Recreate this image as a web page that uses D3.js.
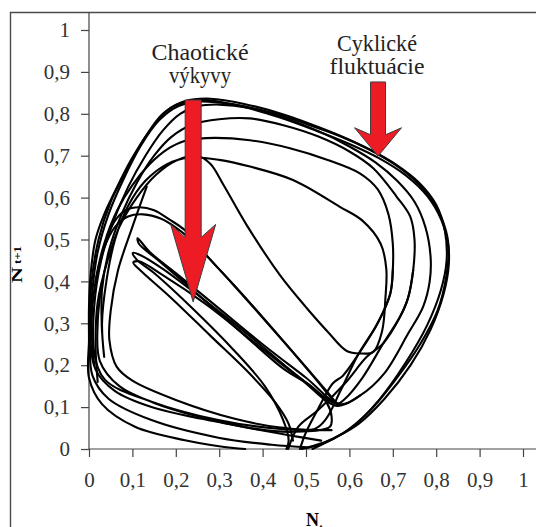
<!DOCTYPE html>
<html>
<head>
<meta charset="utf-8">
<script src="https://cdn.jsdelivr.net/npm/d3@7"></script>
<style>
  body { margin: 0; background: #fff; }
  svg { display: block; }
</style>
</head>
<body>
<div id="chart"></div>
<script>
// axis ticks
var xTicks = [0, 0.1, 0.2, 0.3, 0.4, 0.5, 0.6, 0.7, 0.8, 0.9, 1];
var xTickLabels = ["0", "0,1", "0,2", "0,3", "0,4", "0,5", "0,6", "0,7", "0,8", "0,9", "1"];
var yTicks = [0, 0.1, 0.2, 0.3, 0.4, 0.5, 0.6, 0.7, 0.8, 0.9, 1];
var yTickLabels = ["0", "0,1", "0,2", "0,3", "0,4", "0,5", "0,6", "0,7", "0,8", "0,9", "1"];

// trajectory pieces, [N_t, N_t+1]
// outer cycles (cyklicke fluktuacie)
var cycleA = [[0.36,0.0],[0.344,0.001],[0.221,0.021],[0.106,0.053],[0.03,0.107],[0.0,0.17],[0.0,0.26],[0.0,0.34],[0.004,0.42],[0.015,0.5],[0.035,0.56],[0.06,0.615],[0.097,0.69],[0.14,0.76],[0.18,0.808],[0.22,0.83],[0.28,0.836],[0.36,0.823],[0.45,0.798],[0.53,0.768],[0.6,0.738],[0.66,0.707],[0.72,0.668],[0.77,0.621],[0.806,0.566],[0.826,0.505],[0.829,0.44],[0.817,0.37],[0.787,0.285],[0.741,0.2],[0.681,0.12],[0.621,0.06],[0.566,0.026],[0.515,0.0]];
var cycleB = [[0.505,0.004],[0.421,0.01],[0.298,0.027],[0.144,0.069],[0.045,0.12],[0.008,0.175],[0.003,0.28],[0.008,0.38],[0.02,0.47],[0.045,0.56],[0.08,0.645],[0.12,0.725],[0.162,0.785],[0.205,0.818],[0.25,0.829],[0.33,0.823],[0.42,0.803],[0.5,0.776],[0.58,0.746],[0.65,0.713],[0.71,0.677],[0.76,0.636],[0.8,0.583],[0.82,0.521],[0.824,0.45],[0.811,0.38],[0.779,0.295],[0.729,0.205],[0.669,0.118],[0.606,0.052],[0.551,0.02],[0.5,0.003]];
var cycleC = [[0.535,0.02],[0.46,0.033],[0.38,0.048],[0.26,0.072],[0.144,0.1],[0.06,0.138],[0.015,0.19],[0.002,0.3],[0.006,0.4],[0.022,0.5],[0.05,0.59],[0.088,0.668],[0.13,0.745],[0.17,0.8],[0.213,0.826],[0.27,0.833],[0.35,0.818],[0.44,0.791],[0.52,0.761],[0.6,0.728],[0.67,0.693],[0.73,0.653],[0.78,0.603],[0.812,0.546],[0.828,0.48],[0.823,0.41],[0.803,0.33],[0.763,0.25],[0.706,0.165],[0.646,0.09],[0.586,0.038],[0.536,0.012],[0.49,0.0]];

// inner loops running into the chaotic tongue
var loop1 = [[0.559,0.045],[0.429,0.049],[0.298,0.069],[0.144,0.113],[0.037,0.165],[0.012,0.23],[0.012,0.34],[0.028,0.45],[0.055,0.54],[0.09,0.625],[0.13,0.7],[0.17,0.76],[0.21,0.8],[0.25,0.818],[0.3,0.822],[0.37,0.814],[0.45,0.79],[0.53,0.758],[0.6,0.722],[0.66,0.684],[0.71,0.64],[0.75,0.59],[0.775,0.53],[0.787,0.46],[0.785,0.4],[0.77,0.34],[0.735,0.275],[0.68,0.18],[0.625,0.128],[0.578,0.107],[0.5,0.17],[0.4,0.25],[0.3,0.335],[0.2,0.42],[0.14,0.47],[0.112,0.503],[0.115,0.49],[0.16,0.45],[0.25,0.37],[0.36,0.27],[0.45,0.19],[0.513,0.149],[0.548,0.11],[0.559,0.077],[0.555,0.053],[0.47,0.041],[0.371,0.05],[0.25,0.078],[0.15,0.11],[0.07,0.15],[0.025,0.21],[0.02,0.3],[0.03,0.4]];
var loop2 = [[0.03,0.28],[0.03,0.38],[0.045,0.47],[0.075,0.56],[0.11,0.635],[0.15,0.7],[0.19,0.745],[0.24,0.775],[0.3,0.787],[0.37,0.789],[0.45,0.772],[0.53,0.745],[0.6,0.71],[0.655,0.67],[0.709,0.602],[0.74,0.555],[0.75,0.5],[0.747,0.427],[0.735,0.36],[0.717,0.316],[0.678,0.252],[0.63,0.17],[0.59,0.12],[0.572,0.108],[0.48,0.175],[0.37,0.27],[0.26,0.36],[0.17,0.43],[0.12,0.462],[0.101,0.468],[0.11,0.452],[0.15,0.42],[0.244,0.33],[0.33,0.24],[0.405,0.15],[0.447,0.07],[0.46,0.02],[0.455,0.0]];
var loop3 = [[0.012,0.2],[0.006,0.3],[0.015,0.4],[0.035,0.49],[0.065,0.57],[0.1,0.63],[0.14,0.68],[0.18,0.715],[0.22,0.735],[0.27,0.742],[0.371,0.737],[0.463,0.718],[0.55,0.69],[0.624,0.658],[0.665,0.62],[0.69,0.56],[0.7,0.49],[0.7,0.427],[0.694,0.37],[0.665,0.3],[0.62,0.225],[0.585,0.175],[0.562,0.157],[0.53,0.1],[0.5,0.04],[0.486,0.0]];
var loop4 = [[0.02,0.16],[0.015,0.25],[0.02,0.35],[0.04,0.44],[0.07,0.53],[0.11,0.6],[0.155,0.655],[0.2,0.688],[0.25,0.7],[0.28,0.68],[0.31,0.63],[0.363,0.535],[0.44,0.415],[0.502,0.336],[0.55,0.28],[0.594,0.234],[0.625,0.228],[0.655,0.232],[0.675,0.28],[0.683,0.36],[0.685,0.43],[0.672,0.49],[0.63,0.545],[0.578,0.578],[0.47,0.642],[0.371,0.674],[0.3,0.69],[0.23,0.695],[0.18,0.68],[0.13,0.64],[0.09,0.58],[0.06,0.5],[0.04,0.4],[0.03,0.3],[0.035,0.22]];

// chaotic part (chaoticke vykyvy)
var startPiece = [[0.133,0.626],[0.1,0.53],[0.067,0.427],[0.05,0.33],[0.047,0.26],[0.064,0.196],[0.1,0.163],[0.2,0.117],[0.336,0.072],[0.436,0.052],[0.52,0.048],[0.545,0.07],[0.58,0.14],[0.62,0.225],[0.665,0.3],[0.694,0.37],[0.7,0.427]];
var humpA = [[0.02,0.42],[0.04,0.5],[0.06,0.545],[0.085,0.57],[0.115,0.577],[0.15,0.57],[0.185,0.548],[0.221,0.522],[0.263,0.471],[0.33,0.395],[0.42,0.29],[0.5,0.195],[0.55,0.135],[0.572,0.106]];
var humpB = [[0.015,0.4],[0.035,0.48],[0.06,0.53],[0.09,0.555],[0.125,0.56],[0.165,0.55],[0.205,0.525],[0.245,0.49],[0.29,0.44],[0.37,0.35],[0.45,0.255],[0.52,0.17],[0.56,0.12],[0.576,0.106]];
var tongue = [[0.625,0.128],[0.572,0.103],[0.49,0.165],[0.38,0.255],[0.27,0.345],[0.17,0.415],[0.115,0.448],[0.102,0.445],[0.12,0.425],[0.19,0.36],[0.28,0.27],[0.37,0.18],[0.43,0.11],[0.46,0.06],[0.47,0.02]];
var riser = [[0.459,0.0],[0.482,0.053],[0.528,0.093],[0.59,0.157],[0.64,0.22],[0.678,0.252],[0.717,0.316],[0.735,0.36],[0.747,0.427]];

var trajectory = [cycleA, cycleB, cycleC, loop1, loop2, loop3, loop4, startPiece, humpA, humpB, tongue, riser];

// annotations: label lines, arrow x, arrow top, arrow head base, arrow tip (data units)
var noteChaos = ["Chaotické", "výkyvy"];
var noteCycle = ["Cyklické", "fluktuácie"];
var arrowChaos = [0.24, 0.833, 0.505, 0.351];
var arrowCycle = [0.666, 0.876, 0.75, 0.699];

var width = 536, height = 527;
var serif = "'Liberation Serif', 'Times New Roman', serif";

var x = d3.scaleLinear().domain([0, 1]).range([89, 523]);
var y = d3.scaleLinear().domain([0, 1]).range([449, 30]);

var svg = d3.select("#chart").append("svg")
  .attr("width", width)
  .attr("height", height)
  .attr("font-family", serif);

svg.append("rect").attr("width", width).attr("height", height).attr("fill", "#fff");

// chart frame (left and top edge are all that show)
svg.append("path")
  .attr("d", "M10.5," + height + "V12.5H" + width)
  .attr("fill", "none")
  .attr("stroke", "#4a4a4a")
  .attr("stroke-width", 1.4);

// axes
var yAxis = d3.axisLeft(y)
  .tickValues(yTicks)
  .tickFormat(function(d, i) { return yTickLabels[i]; })
  .tickSize(8)
  .tickPadding(11);

var xAxis = d3.axisBottom(x)
  .tickValues(xTicks)
  .tickFormat(function(d, i) { return xTickLabels[i]; })
  .tickSize(8)
  .tickPadding(15);

var gy = svg.append("g").attr("transform", "translate(" + x(0) + ",0)").call(yAxis);
var gx = svg.append("g").attr("transform", "translate(0," + y(0) + ")").call(xAxis);

[gx, gy].forEach(function(g) {
  g.attr("font-family", serif).attr("font-size", 21);
  g.select(".domain").remove();
  g.selectAll(".tick line").attr("stroke", "#444").attr("stroke-width", 1.2);
  g.selectAll(".tick text").attr("fill", "#333");
});

svg.append("line")
  .attr("x1", x(0)).attr("x2", x(0))
  .attr("y1", 12).attr("y2", y(0))
  .attr("stroke", "#444").attr("stroke-width", 1.2);
svg.append("line")
  .attr("x1", x(0)).attr("x2", width)
  .attr("y1", y(0)).attr("y2", y(0))
  .attr("stroke", "#444").attr("stroke-width", 1.2);

// axis titles
var yt = svg.append("g").attr("transform", "translate(22,283) rotate(-90)");
yt.append("text").attr("x", 0).attr("y", 0)
  .attr("textLength", 16).attr("lengthAdjust", "spacingAndGlyphs")
  .attr("font-size", 15).attr("font-weight", "bold").text("N");
yt.append("text").attr("x", 19).attr("y", -1)
  .attr("textLength", 18).attr("lengthAdjust", "spacingAndGlyphs")
  .attr("font-size", 11).attr("font-weight", "bold").text("t+1");

svg.append("text").attr("x", 306).attr("y", 526)
  .attr("font-size", 18).attr("font-weight", "bold").text("N");
svg.append("text").attr("x", 319.5).attr("y", 530)
  .attr("font-size", 9).attr("font-weight", "bold").text("t");

// the trajectory
var line = d3.line()
  .x(function(d) { return x(d[0]); })
  .y(function(d) { return y(d[1]); })
  .curve(d3.curveCatmullRom.alpha(0.5));

svg.append("g")
  .selectAll("path")
  .data(trajectory)
  .enter().append("path")
  .attr("d", line)
  .attr("fill", "none")
  .attr("stroke", "#000")
  .attr("stroke-width", 2.1)
  .attr("stroke-linejoin", "round")
  .attr("stroke-linecap", "round");

// arrows
function arrow(a, halfShaft, halfHead, back) {
  var cx = x(a[0]), top = y(a[1]), base = y(a[2]), tip = y(a[3]);
  var pts = [[cx - halfShaft, top], [cx + halfShaft, top], [cx + halfShaft, base],
    [cx + halfHead, base - back], [cx, tip], [cx - halfHead, base - back], [cx - halfShaft, base]];
  svg.append("polygon")
    .attr("points", pts.map(function(p) { return p.join(","); }).join(" "))
    .attr("fill", "#ed1c24")
    .attr("stroke", "#3c3c3c")
    .attr("stroke-width", 1);
}
arrow(arrowChaos, 8, 22.5, 13);
arrow(arrowCycle, 7.5, 23.5, 7);

// annotation text
function note(lines, cx, y0, lens) {
  lines.forEach(function(t, i) {
    svg.append("text")
      .attr("x", cx - lens[i] / 2)
      .attr("y", y0 + i * 23)
      .attr("textLength", lens[i])
      .attr("lengthAdjust", "spacingAndGlyphs")
      .attr("fill", "#222")
      .attr("font-size", 23)
      .text(t);
  });
}
note(noteChaos, 200, 60, [97, 62]);
note(noteCycle, 377, 51, [80, 95]);
</script>
</body>
</html>
